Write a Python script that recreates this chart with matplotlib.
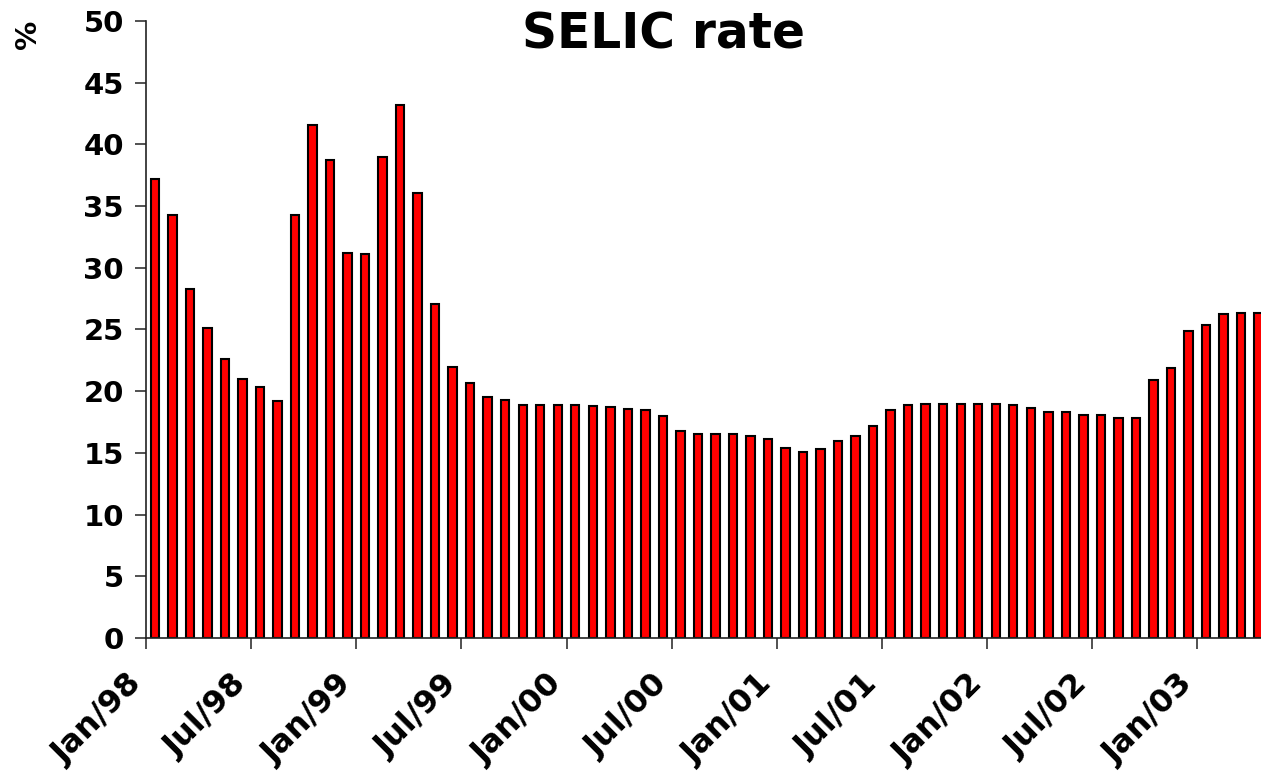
import matplotlib
matplotlib.use("Agg")
import matplotlib.pyplot as plt
import matplotlib.transforms as mtransforms
import numpy as np

# === Data: monthly SELIC rate, Jan/98 .. Apr/03 (% p.a.) ===
selic = [
    37.2, 34.3, 28.3, 25.1, 22.6, 21.0, 20.3, 19.2,   # Jan-Aug 98
    34.3, 41.6, 38.7, 31.2,                           # Sep-Dec 98
    31.1, 39.0, 43.2, 36.1, 27.1, 22.0, 20.7, 19.5,   # Jan-Aug 99
    19.3, 18.85, 18.9, 18.9,                          # Sep-Dec 99
    18.9, 18.8, 18.75, 18.55, 18.45, 18.0, 16.75, 16.5,  # Jan-Aug 00
    16.5, 16.5, 16.4, 16.1,                           # Sep-Dec 00
    15.4, 15.1, 15.3, 15.95, 16.35, 17.2, 18.5, 18.9,   # Jan-Aug 01
    19.0, 19.0, 19.0, 19.0,                           # Sep-Dec 01
    19.0, 18.9, 18.65, 18.3, 18.3, 18.05, 18.1, 17.8,   # Jan-Aug 02
    17.8, 20.9, 21.9, 24.85,                          # Sep-Dec 02
    25.35, 26.25, 26.3, 26.3,                         # Jan-Apr 03
]
tick_labels = ["Jan/98", "Jul/98", "Jan/99", "Jul/99", "Jan/00", "Jul/00",
               "Jan/01", "Jul/01", "Jan/02", "Jul/02", "Jan/03"]
y_ticks = [0, 5, 10, 15, 20, 25, 30, 35, 40, 45, 50]

plt.rcParams['font.family'] = ['DejaVu Sans']
plt.rcParams['font.weight'] = 'bold'

fig = plt.figure(figsize=(12.61, 7.72), dpi=100)
ax = fig.add_axes([0.1158, 0.1736, 0.8842, 0.7992])

x = np.arange(len(selic))
ax.bar(x, selic, width=0.48, color='#FF0000', edgecolor='black', linewidth=1.5)

# === Axes ===
ax.set_ylim(0, 50)
ax.set_xlim(-0.5, 63.14)
ax.set_yticks(y_ticks)
ax.set_yticklabels([str(v) for v in y_ticks], fontsize=21, fontweight='bold')

# ticks sit between categories, one every six months
tick_pos = np.arange(len(tick_labels)) * 6 - 0.5
ax.set_xticks(tick_pos)
ax.set_xticklabels(tick_labels, rotation=45, ha='right', va='center',
                   rotation_mode='anchor', fontsize=23, fontweight='bold')

ax.tick_params(axis='y', direction='out', length=8, width=1.2, pad=8, color='#333333')
ax.tick_params(axis='x', direction='out', length=8, width=1.2, pad=22, color='#333333')

# nudge the slanted labels a little to the left
shift = mtransforms.ScaledTranslation(-9 / 100, 0, fig.dpi_scale_trans)
for lbl in ax.get_xticklabels():
    lbl.set_transform(lbl.get_transform() + shift)

for side in ['top', 'right']:
    ax.spines[side].set_visible(False)
for side in ['left', 'bottom']:
    ax.spines[side].set_linewidth(1.2)
    ax.spines[side].set_color('#222222')

# === Title and unit label ===
fig.text(0.526, 0.955, "SELIC rate", ha='center', va='center',
         fontsize=35, fontweight='bold')
fig.text(0.022, 0.955, "%", rotation=90, ha='center', va='center',
         fontsize=21, fontweight='bold')

fig.savefig("out.png", dpi=100)
